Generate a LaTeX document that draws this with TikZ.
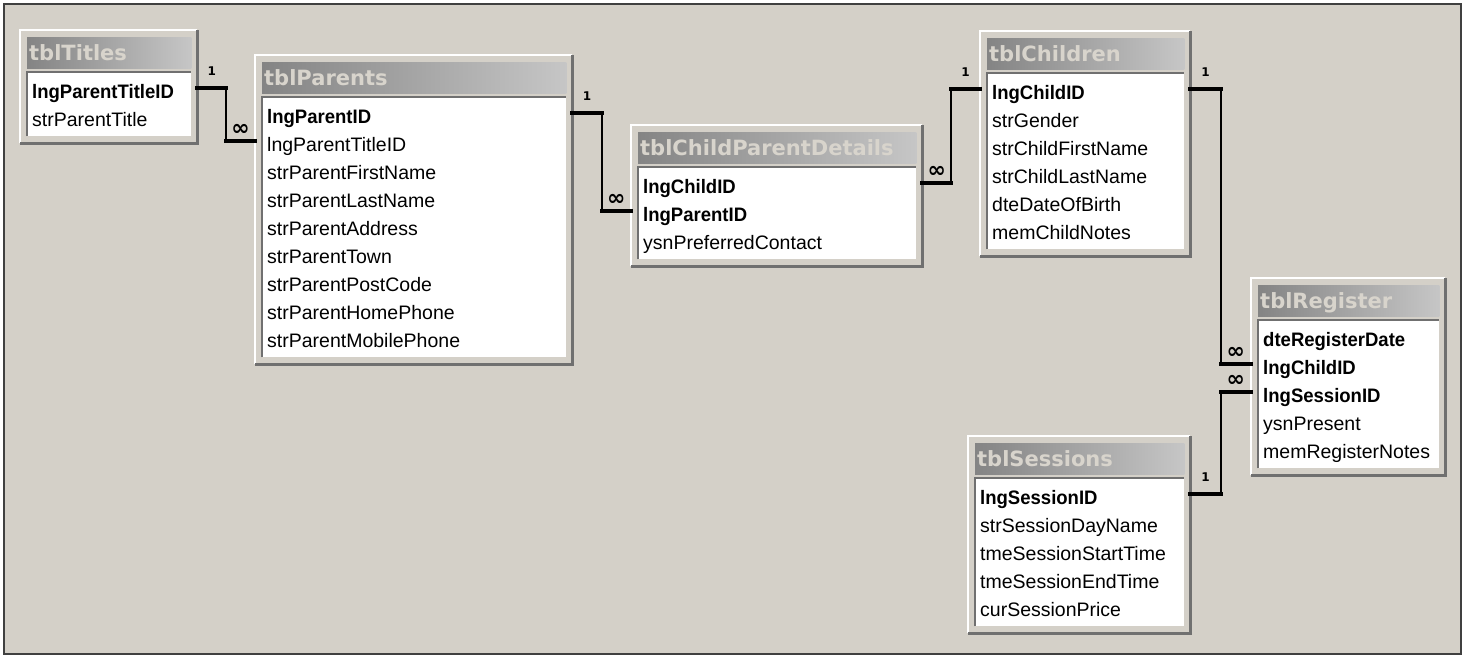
\documentclass[tikz,border=0pt]{standalone}
\usepackage{fontspec}
\setmainfont{Liberation Sans}
\newfontfamily\hdrfont{DejaVu Sans}
\newfontfamily\pkfont{Liberation Sans}[FakeStretch=0.95]
\usetikzlibrary{calc}

\definecolor{canvas}{HTML}{D4D0C8}
\definecolor{hdrdark}{HTML}{848484}
\definecolor{hdrlight}{HTML}{C6C6C6}
\definecolor{hdrtxt}{HTML}{D8D4CC}
\definecolor{edgedark}{HTML}{404040}
\definecolor{edgemid}{HTML}{707070}

\tikzset{
  tblframe/.style={rectangle,fill=canvas,inner sep=0pt,anchor=north west},
  hdrshade/.style={left color=hdrdark,right color=hdrlight},
  hdrtext/.style={anchor=west,inner sep=2pt,text height=15pt,text depth=0pt,
    font=\hdrfont\bfseries\fontsize{21}{21}\selectfont,text=hdrtxt},
  fieldtext/.style={anchor=base west,inner sep=0pt,font=\fontsize{19.5}{20}\selectfont},
  keytext/.style={anchor=base west,inner sep=0pt,font=\pkfont\bfseries\fontsize{19.5}{20}\selectfont},
  onethick/.style={line width=4pt,line cap=rect},
  linkthin/.style={line width=1.6pt},
  onelab/.style={above=11pt,inner sep=0pt,font=\hdrfont\bfseries\fontsize{12}{12}\selectfont},
  manylab/.style={above=4pt,inner sep=0pt,font=\hdrfont\bfseries\fontsize{22}{22}\selectfont},
}

% table: id, x, y, width, height, title, fields, number of key fields
\newcommand{\dbtable}[8]{%
  \node[tblframe,minimum width=#4pt,minimum height=#5pt] (#1) at (#2,#3) {};
  \draw[white,line width=2pt] (#1.south west) |- (#1.north east);
  \draw[edgemid,line width=2.5pt] (#1.north east) |- (#1.south west);
  \shade[hdrshade] ($(#1.north west)+(7,7)$) rectangle ($(#1.north east)+(-6,38)$);
  \node[hdrtext] (#1-hdr) at ($(#1.north west)+(7,22.5)$) {#6};
  \fill[white] ($(#1.north west)+(7,42)$) rectangle ($(#1.south east)+(-6,-7)$);
  \draw[edgemid,line width=1.5pt] ($(#1.south west)+(7,-7)$) |- ($(#1.north east)+(-6,42)$);
  \foreach \f [count=\i] in {#7} {
    \coordinate (#1-\i-l) at ($(#1.north west)+(0,{58+28*(\i-1)})$);
    \ifnum\i>#8\relax
      \node[fieldtext] (#1-\i) at ($(#1.north west)+(12,{68+28*(\i-1)})$) {\f};
    \else
      \node[keytext] (#1-\i) at ($(#1.north west)+(12,{68+28*(\i-1)})$) {\f};
    \fi
  }
}

% relationship: id, one-end point, many-end point
\newcommand{\relline}[3]{%
  \coordinate (#1m) at ($(#2)!.5!(#3)$);
  \draw[onethick] (#2) -- node[onelab] (#1one) {1} (#2 -| #1m);
  \draw[linkthin] (#2 -| #1m) -- (#3 -| #1m);
  \draw[onethick] (#3 -| #1m) -- node[manylab] (#1many) {∞} (#3);
}

\begin{document}
\begin{tikzpicture}[x=1pt,y=-1pt]
  \useasboundingbox (0,0) rectangle (1465,659);
  \fill[white] (0,0) rectangle (1465,659);
  \draw[edgedark,line width=2.5pt,fill=canvas] (4,4) rectangle (1461,654);

  % tables
  \dbtable{tit}{20}{30}{177}{113}{tblTitles}{lngParentTitleID,strParentTitle}{1}
  \dbtable{par}{255}{55}{317}{309}{tblParents}{lngParentID,lngParentTitleID,strParentFirstName,strParentLastName,strParentAddress,strParentTown,strParentPostCode,strParentHomePhone,strParentMobilePhone}{1}
  \dbtable{cpd}{631}{125}{291}{141}{tblChildParentDetails}{lngChildID,lngParentID,ysnPreferredContact}{2}
  \dbtable{chi}{980}{31}{210}{225}{tblChildren}{lngChildID,strGender,strChildFirstName,strChildLastName,dteDateOfBirth,memChildNotes}{1}
  \dbtable{reg}{1251}{278}{194}{197}{tblRegister}{dteRegisterDate,lngChildID,lngSessionID,ysnPresent,memRegisterNotes}{3}
  \dbtable{ses}{968}{436}{222}{197}{tblSessions}{lngSessionID,strSessionDayName,tmeSessionStartTime,tmeSessionEndTime,curSessionPrice}{1}

  % relationships
  \coordinate (r1a) at (tit.east |- tit-1-l);
  \coordinate (r1b) at (par.west |- par-2-l);
  \relline{r1}{r1a}{r1b}
  \coordinate (r2a) at (par.east |- par-1-l);
  \coordinate (r2b) at (cpd.west |- cpd-2-l);
  \relline{r2}{r2a}{r2b}
  \coordinate (r3a) at (chi.west |- chi-1-l);
  \coordinate (r3b) at (cpd.east |- cpd-1-l);
  \relline{r3}{r3a}{r3b}
  \coordinate (r4a) at (chi.east |- chi-1-l);
  \coordinate (r4b) at (reg.west |- reg-2-l);
  \relline{r4}{r4a}{r4b}
  \coordinate (r5a) at (ses.east |- ses-1-l);
  \coordinate (r5b) at (reg.west |- reg-3-l);
  \relline{r5}{r5a}{r5b}
\end{tikzpicture}
\end{document}
